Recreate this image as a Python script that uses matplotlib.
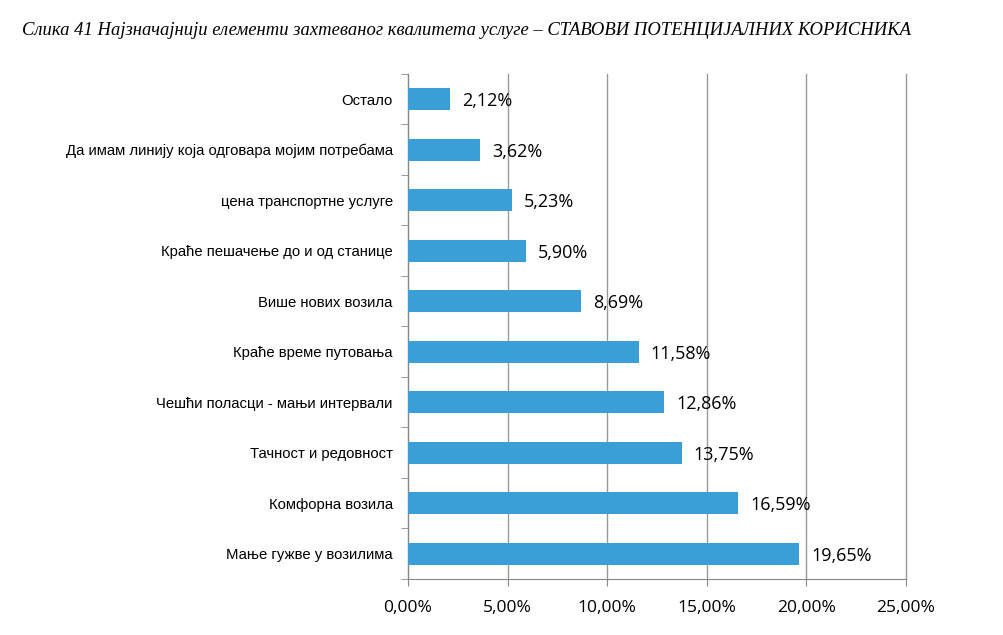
import matplotlib.pyplot as plt
import numpy as np

categories = ['Мање гужве у возилима', 'Комфорна возила', 'Тачност и редовност',
              'Чешћи поласци - мањи интервали', 'Краће време путовања',
              'Више нових возила', 'Краће пешачење до и од станице',
              'цена транспортне услуге', 'Да имам линију која одговара мојим потребама',
              'Остало']
values = [19.65, 16.59, 13.75, 12.86, 11.58, 8.69, 5.90, 5.23, 3.62, 2.12]
xticks = [0, 5, 10, 15, 20, 25]

fig = plt.figure(figsize=(10.04, 6.35), dpi=100, facecolor='w')
ax = fig.add_axes([0.4064, 0.0882, 0.496, 0.7953])

y = np.arange(len(categories))
ax.barh(y, values, height=0.44, color='#3a9fd7', zorder=3)
for yi, v in zip(y, values):
    ax.text(v + 0.6, yi - 0.04, '{:.2f}%'.format(v).replace('.', ','), va='center', ha='left',
            fontsize=13, family='Open Sans', color='black', zorder=4)

ax.set_xlim(0, 25)
ax.set_ylim(-0.5, len(categories) - 0.5)
ax.set_xticks(xticks)
ax.set_xticklabels(['{:.2f}%'.format(t).replace('.', ',') for t in xticks],
                   fontsize=12.5, family='Open Sans')
ax.set_yticks(y)
ax.set_yticklabels(categories, fontsize=10.7, family='Liberation Sans')
ax.set_yticks(np.arange(-0.5, len(categories), 1), minor=True)
ax.tick_params(axis='y', which='major', length=0, pad=11)
ax.tick_params(axis='y', which='minor', length=5, color='#888888', direction='out')
ax.tick_params(axis='x', length=5, color='#888888', pad=10)
ax.grid(axis='x', color='#999999', linewidth=1, zorder=0)
for line in ax.get_xgridlines():
    line.set_clip_on(False)
for s in ['top', 'right']:
    ax.spines[s].set_visible(False)
for s in ['left', 'bottom']:
    ax.spines[s].set_color('#888888')

fig.text(0.022, 0.952, 'Слика 41 Најзначајнији елементи захтеваног квалитета услуге – СТАВОВИ ПОТЕНЦИЈАЛНИХ КОРИСНИКА',
         family='Liberation Serif', style='italic', fontsize=13.4, va='center', ha='left')

plt.savefig('out.png', dpi=100)
